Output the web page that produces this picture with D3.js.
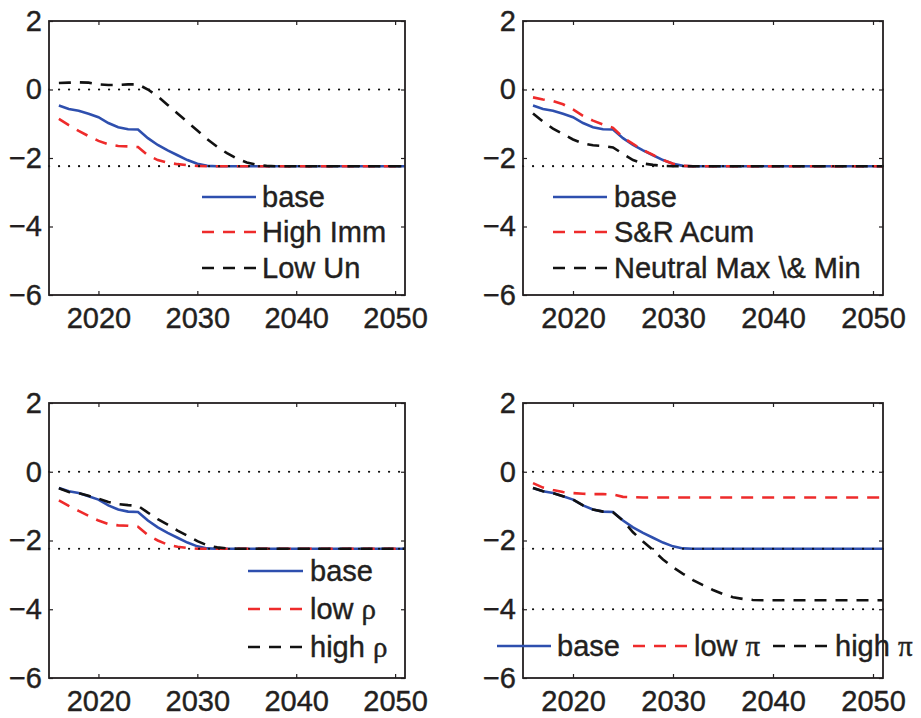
<!DOCTYPE html>
<html>
<head>
<meta charset="utf-8">
<script src="https://cdn.jsdelivr.net/npm/d3@7"></script>
<style>
  body { margin: 0; background: #fff; }
  text { font-family: "Liberation Sans", Arial, Helvetica, sans-serif; fill: #231f20; }
</style>
</head>
<body>
<div id="chart"></div>
<script>
// years on the x axis (one point per year)
const years = [2016,2017,2018,2019,2020,2021,2022,2023,2024,2025,2026,2027,2028,2029,2030,2031,2032,2033,
  2034,2035,2036,2037,2038,2039,2040,2041,2042,2043,2044,2045,2046,2047,2048,2049,2050,2051];

const xTicks = [2020, 2030, 2040, 2050];
const yTicks = [-6, -4, -2, 0, 2];

// series
const base = [-0.47,-0.57,-0.62,-0.71,-0.81,-0.98,-1.10,-1.16,-1.17,-1.42,-1.62,-1.78,-1.92,-2.06,-2.17,-2.23,
  -2.24,-2.24,-2.24,-2.24,-2.24,-2.24,-2.24,-2.24,-2.24,-2.24,-2.24,-2.24,-2.24,-2.24,-2.24,-2.24,-2.24,-2.24,-2.24,-2.24];
const highImm = [-0.86,-1.04,-1.21,-1.36,-1.50,-1.60,-1.65,-1.66,-1.68,-1.92,-2.06,-2.14,-2.18,-2.21,-2.23,
  -2.24,-2.24,-2.24,-2.24,-2.24,-2.24,-2.24,-2.24,-2.24,-2.24,-2.24,-2.24,-2.24,-2.24,-2.24,-2.24,-2.24,-2.24,-2.24,-2.24,-2.24];
const lowUn = [0.19,0.20,0.21,0.20,0.15,0.13,0.13,0.15,0.15,0.00,-0.20,-0.45,-0.70,-0.95,-1.20,-1.45,-1.67,-1.86,-2.02,-2.13,-2.20,-2.23,
  -2.24,-2.24,-2.24,-2.24,-2.24,-2.24,-2.24,-2.24,-2.24,-2.24,-2.24,-2.24,-2.24,-2.24];
const srAcum = [-0.23,-0.29,-0.34,-0.43,-0.58,-0.77,-0.91,-1.02,-1.12,-1.40,-1.59,-1.77,-1.91,-2.06,-2.17,-2.23,
  -2.24,-2.24,-2.24,-2.24,-2.24,-2.24,-2.24,-2.24,-2.24,-2.24,-2.24,-2.24,-2.24,-2.24,-2.24,-2.24,-2.24,-2.24,-2.24,-2.24];
const neutralMaxMin = [-0.70,-0.94,-1.14,-1.30,-1.46,-1.57,-1.63,-1.65,-1.69,-1.88,-2.06,-2.16,-2.20,-2.23,
  -2.24,-2.24,-2.24,-2.24,-2.24,-2.24,-2.24,-2.24,-2.24,-2.24,-2.24,-2.24,-2.24,-2.24,-2.24,-2.24,-2.24,-2.24,-2.24,-2.24,-2.24,-2.24];
const lowRho = [-0.83,-0.99,-1.14,-1.28,-1.42,-1.52,-1.56,-1.57,-1.60,-1.84,-2.00,-2.12,-2.18,-2.22,
  -2.24,-2.24,-2.24,-2.24,-2.24,-2.24,-2.24,-2.24,-2.24,-2.24,-2.24,-2.24,-2.24,-2.24,-2.24,-2.24,-2.24,-2.24,-2.24,-2.24,-2.24,-2.24];
const highRho = [-0.48,-0.59,-0.62,-0.70,-0.78,-0.88,-0.94,-0.97,-0.99,-1.19,-1.38,-1.54,-1.71,-1.86,-2.02,-2.14,-2.20,-2.23,
  -2.24,-2.24,-2.24,-2.24,-2.24,-2.24,-2.24,-2.24,-2.24,-2.24,-2.24,-2.24,-2.24,-2.24,-2.24,-2.24,-2.24,-2.24];
const lowPi = [-0.33,-0.46,-0.53,-0.59,-0.62,-0.64,-0.65,-0.65,-0.66,-0.73,-0.74,
  -0.75,-0.75,-0.75,-0.75,-0.75,-0.75,-0.75,-0.75,-0.75,-0.75,-0.75,-0.75,-0.75,-0.75,-0.75,-0.75,-0.75,-0.75,-0.75,-0.75,-0.75,-0.75,-0.75,-0.75,-0.75];
const highPi = [-0.47,-0.57,-0.62,-0.71,-0.81,-0.98,-1.10,-1.16,-1.18,-1.42,-1.76,-2.03,-2.28,-2.55,-2.78,-2.97,-3.15,-3.30,-3.44,-3.56,-3.65,-3.70,-3.73,
  -3.74,-3.74,-3.74,-3.74,-3.74,-3.74,-3.74,-3.74,-3.74,-3.74,-3.74,-3.74,-3.74];

// dotted reference levels
const refLevels = [0, -2.24];
const refLevelsPi = [0, -2.24, -4];

const BLUE = '#2e4fae', RED = '#ee2b2b', BLACK = '#111';
const DASH = '12,9';

const W = 921, H = 718;
const svg = d3.select('#chart').append('svg')
  .attr('width', W).attr('height', H);

// panel layout (pixel boxes) and legends
const panels = [
  { box: [49, 405, 21, 295], refs: refLevels,
    series: [{ d: base, c: BLUE, n: 'base' }, { d: highImm, c: RED, n: 'High Imm', dash: true }, { d: lowUn, c: BLACK, n: 'Low Un', dash: true }],
    legend: { type: 'v', x1: 202, x2: 256, tx: 262, ys: [197, 232, 268] } },
  { box: [523, 883, 21, 295], refs: refLevels,
    series: [{ d: base, c: BLUE, n: 'base' }, { d: srAcum, c: RED, n: 'S&R Acum', dash: true }, { d: neutralMaxMin, c: BLACK, n: 'Neutral Max \\& Min', dash: true }],
    legend: { type: 'v', x1: 553, x2: 607, tx: 614, ys: [197, 232, 268] } },
  { box: [49, 405, 403, 678], refs: refLevels,
    series: [{ d: base, c: BLUE, n: 'base' }, { d: lowRho, c: RED, n: 'low ', g: 'ρ', dash: true }, { d: highRho, c: BLACK, n: 'high ', g: 'ρ', dash: true }],
    legend: { type: 'v', x1: 248, x2: 303, tx: 310, ys: [571, 609, 647] } },
  { box: [523, 883, 403, 678], refs: refLevelsPi,
    series: [{ d: base, c: BLUE, n: 'base' }, { d: lowPi, c: RED, n: 'low ', g: 'π', dash: true }, { d: highPi, c: BLACK, n: 'high ', g: 'π', dash: true }],
    legend: { type: 'h', y: 646, items: [[497, 551, 557], [633, 688, 694], [773, 828, 835]] } }
];

panels.forEach(p => {
  const [l, r, t, b] = p.box;
  const x = d3.scaleLinear().domain([2015, 2051]).range([l, r]);
  const y = d3.scaleLinear().domain([-6, 2]).range([b, t]);
  const g = svg.append('g');

  const line = d3.line().x((d, i) => x(years[i])).y(d => y(d));

  // data lines
  p.series.forEach(s => {
    g.append('path')
      .datum(s.d)
      .attr('fill', 'none')
      .attr('stroke', s.c)
      .attr('stroke-width', 2.6)
      .attr('stroke-dasharray', s.dash ? DASH : null)
      .attr('d', line);
  });

  // dotted reference lines go on top
  p.refs.forEach(v => {
    g.append('line')
      .attr('x1', x(2015)).attr('x2', x(2051))
      .attr('y1', y(v)).attr('y2', y(v))
      .attr('stroke', '#111')
      .attr('stroke-width', 2.2)
      .attr('stroke-linecap', 'round')
      .attr('stroke-dasharray', '0.1,9.9');
  });

  // axes: ticks inside on all sides, labels bottom and left
  const bottom = g.append('g').attr('transform', `translate(0,${b})`)
    .call(d3.axisBottom(x).tickValues(xTicks).tickSize(-4).tickPadding(10).tickFormat(d3.format('d')));
  const top = g.append('g').attr('transform', `translate(0,${t})`)
    .call(d3.axisTop(x).tickValues(xTicks).tickSize(-4).tickFormat(''));
  const left = g.append('g').attr('transform', `translate(${l},0)`)
    .call(d3.axisLeft(y).tickValues(yTicks).tickSize(-4).tickPadding(7).tickFormat(d => d < 0 ? '\u2212' + Math.abs(d) : d));
  const right = g.append('g').attr('transform', `translate(${r},0)`)
    .call(d3.axisRight(y).tickValues(yTicks).tickSize(-4).tickFormat(''));

  [bottom, top, left, right].forEach(a => {
    a.select('.domain').remove();
    a.selectAll('line').attr('stroke', '#231f20').attr('stroke-width', 1.2);
    a.selectAll('text').attr('font-size', 29).attr('fill', '#231f20')
      .attr('stroke', '#231f20').attr('stroke-width', 0.4)
      .style('font-family', '"Liberation Sans", Arial, sans-serif');
  });
  bottom.selectAll('text').attr('dy', null).attr('y', 33).attr('dominant-baseline', 'auto');

  g.append('rect')
    .attr('x', l).attr('y', t).attr('width', r - l).attr('height', b - t)
    .attr('fill', 'none').attr('stroke', '#231f20').attr('stroke-width', 1.8);

  // legend
  const lg = p.legend;
  p.series.forEach((s, i) => {
    let x1, x2, tx, ly;
    if (lg.type === 'v') { x1 = lg.x1; x2 = lg.x2; tx = lg.tx; ly = lg.ys[i]; }
    else { [x1, x2, tx] = lg.items[i]; ly = lg.y; }
    g.append('line')
      .attr('x1', x1).attr('x2', x2).attr('y1', ly).attr('y2', ly)
      .attr('stroke', s.c).attr('stroke-width', 2.6)
      .attr('stroke-dasharray', s.dash ? DASH : null);
    const txt = g.append('text')
      .attr('x', tx).attr('y', ly + 10)
      .attr('font-size', 29)
      .attr('stroke', '#231f20').attr('stroke-width', 0.4);
    txt.append('tspan').text(s.n);
    if (s.g) txt.append('tspan').style('font-family', '"Liberation Serif", "DejaVu Serif", serif').text(s.g);
  });
});
</script>
</body>
</html>
